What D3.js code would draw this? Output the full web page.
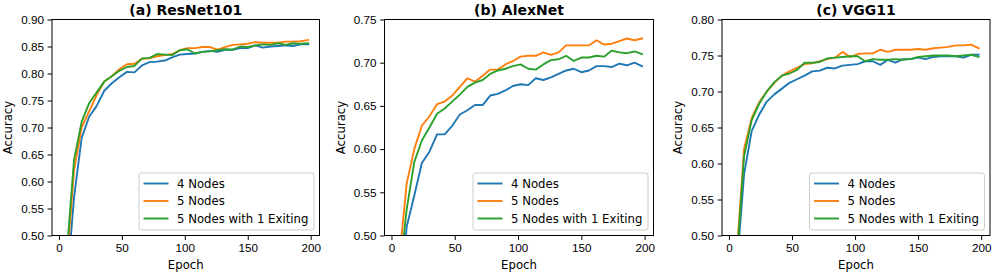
<!DOCTYPE html>
<html>
<head>
<meta charset="utf-8">
<script src="https://cdn.jsdelivr.net/npm/d3@7"></script>
<style>
  body { margin: 0; background: #fff; }
  svg { display: block; font-family: "DejaVu Sans", sans-serif; }
  .tick text { font-size: 11.7px; fill: #000; }
  .tick line { stroke: #000; }
  .domain { display: none; }
</style>
</head>
<body>
<svg id="chart" width="996" height="274"></svg>
<script>
// epochs at which accuracy was logged
const epochs = [6, 12, 18, 24, 30, 36, 42, 48, 54, 60, 66, 72, 78, 84, 90, 96, 102,
  108, 114, 120, 126, 132, 138, 144, 150, 156, 162, 168, 174, 180, 186, 192, 198];

const seriesNames = ['4 Nodes', '5 Nodes', '5 Nodes with 1 Exiting'];
const colors = ['#1f77b4', '#ff7f0e', '#2ca02c'];
const xTicks = [0, 50, 100, 150, 200];

// (a) ResNet101
const resnet4 = [0.40, 0.57, 0.68, 0.72, 0.74, 0.768, 0.782, 0.793, 0.803, 0.802, 0.815, 0.821,
  0.822, 0.824, 0.830, 0.835, 0.836, 0.837, 0.840, 0.842, 0.840, 0.844, 0.844, 0.847, 0.847,
  0.852, 0.848, 0.850, 0.851, 0.852, 0.851, 0.854, 0.854];
const resnet5 = [0.44, 0.62, 0.70, 0.73, 0.76, 0.785, 0.795, 0.808, 0.817, 0.818, 0.827, 0.828,
  0.832, 0.834, 0.836, 0.843, 0.847, 0.847, 0.849, 0.849, 0.844, 0.849, 0.853, 0.854, 0.855,
  0.858, 0.857, 0.857, 0.857, 0.859, 0.859, 0.860, 0.862];
const resnet5x = [0.46, 0.64, 0.71, 0.745, 0.765, 0.785, 0.795, 0.805, 0.812, 0.814, 0.828, 0.829,
  0.836, 0.835, 0.834, 0.843, 0.845, 0.837, 0.840, 0.841, 0.843, 0.845, 0.844, 0.850, 0.849,
  0.852, 0.854, 0.853, 0.856, 0.853, 0.856, 0.855, 0.856];
const resnetTicks = [0.50, 0.55, 0.60, 0.65, 0.70, 0.75, 0.80, 0.85, 0.90];

// (b) AlexNet
const alex4 = [0.40, 0.51, 0.546, 0.584, 0.597, 0.617, 0.617, 0.627, 0.640, 0.645, 0.651, 0.651,
  0.662, 0.664, 0.668, 0.673, 0.675, 0.674, 0.682, 0.680, 0.683, 0.687, 0.691, 0.693, 0.689,
  0.691, 0.696, 0.696, 0.695, 0.699, 0.697, 0.700, 0.696];
const alex5 = [0.47, 0.56, 0.60, 0.627, 0.638, 0.652, 0.655, 0.662, 0.672, 0.682, 0.678, 0.685,
  0.692, 0.692, 0.698, 0.702, 0.707, 0.708, 0.708, 0.712, 0.709, 0.712, 0.720, 0.720, 0.720,
  0.720, 0.726, 0.721, 0.722, 0.725, 0.728, 0.726, 0.728];
const alex5x = [0.45, 0.53, 0.585, 0.61, 0.625, 0.641, 0.647, 0.655, 0.663, 0.672, 0.677, 0.680,
  0.687, 0.691, 0.693, 0.696, 0.698, 0.693, 0.692, 0.698, 0.703, 0.704, 0.708, 0.702, 0.706,
  0.706, 0.708, 0.707, 0.714, 0.712, 0.711, 0.713, 0.710];
const alexTicks = [0.50, 0.55, 0.60, 0.65, 0.70, 0.75];

// (c) VGG11
const vgg4 = [0.45, 0.585, 0.645, 0.668, 0.686, 0.696, 0.704, 0.712, 0.717, 0.722, 0.728, 0.729,
  0.733, 0.732, 0.736, 0.737, 0.738, 0.742, 0.742, 0.737, 0.744, 0.740, 0.745, 0.745, 0.747,
  0.745, 0.748, 0.749, 0.749, 0.749, 0.747, 0.751, 0.751];
const vgg5 = [0.47, 0.62, 0.663, 0.685, 0.700, 0.712, 0.722, 0.728, 0.733, 0.738, 0.739, 0.742,
  0.745, 0.747, 0.755, 0.748, 0.752, 0.753, 0.753, 0.758, 0.755, 0.758, 0.758, 0.758, 0.759,
  0.758, 0.760, 0.761, 0.762, 0.764, 0.764, 0.765, 0.760];
const vgg5x = [0.46, 0.61, 0.66, 0.683, 0.700, 0.713, 0.722, 0.725, 0.730, 0.740, 0.740, 0.741,
  0.746, 0.747, 0.748, 0.749, 0.749, 0.742, 0.745, 0.744, 0.744, 0.745, 0.744, 0.745, 0.748,
  0.749, 0.750, 0.750, 0.750, 0.749, 0.750, 0.751, 0.748];
const vggTicks = [0.50, 0.55, 0.60, 0.65, 0.70, 0.75, 0.80];

const panels = [
  { title: '(a) ResNet101', left: 52, right: 319.5, series: [resnet4, resnet5, resnet5x], ticks: resnetTicks },
  { title: '(b) AlexNet', left: 384.5, right: 653.5, series: [alex4, alex5, alex5x], ticks: alexTicks },
  { title: '(c) VGG11', left: 722, right: 990, series: [vgg4, vgg5, vgg5x], ticks: vggTicks }
];

const plotTop = 19.5, plotBottom = 235.5;
const svg = d3.select('#chart');

panels.forEach((p, pi) => {
  const w = p.right - p.left, h = plotBottom - plotTop;
  const g = svg.append('g').attr('transform', `translate(${p.left}, ${plotTop})`);

  const x = d3.scaleLinear().domain([-5.5, 207]).range([0, w]);
  const y = d3.scaleLinear().domain([p.ticks[0], p.ticks[p.ticks.length - 1]]).range([h, 0]);

  g.append('clipPath').attr('id', 'clip' + pi)
    .append('rect').attr('width', w).attr('height', h);

  const line = d3.line()
    .x((d, i) => x(epochs[i]))
    .y(d => y(d));

  const lines = g.append('g').attr('clip-path', `url(#clip${pi})`);
  p.series.forEach((s, si) => {
    lines.append('path')
      .datum(s)
      .attr('fill', 'none')
      .attr('stroke', colors[si])
      .attr('stroke-width', 1.9)
      .attr('stroke-linejoin', 'round')
      .attr('stroke-linecap', 'square')
      .attr('d', line);
  });

  g.append('g')
    .attr('transform', `translate(0, ${h})`)
    .call(d3.axisBottom(x).tickValues(xTicks).tickSize(4.4).tickPadding(3.5).tickFormat(d3.format('d')));

  g.append('g')
    .call(d3.axisLeft(y).tickValues(p.ticks).tickSize(4.4).tickPadding(3.5).tickFormat(d3.format('.2f')));

  // frame
  g.append('rect')
    .attr('width', w).attr('height', h)
    .attr('fill', 'none').attr('stroke', '#000').attr('stroke-width', 1);

  g.append('text')
    .attr('x', w / 2).attr('y', -5)
    .attr('text-anchor', 'middle')
    .style('font-size', '14px').style('font-weight', 'bold')
    .text(p.title);

  g.append('text')
    .attr('x', w / 2).attr('y', h + 33.5)
    .attr('text-anchor', 'middle')
    .style('font-size', '11.7px')
    .text('Epoch');

  g.append('text')
    .attr('transform', `translate(-40, ${h / 2}) rotate(-90)`)
    .attr('text-anchor', 'middle')
    .style('font-size', '11.7px')
    .text('Accuracy');

  // legend, lower right
  const lw = 175, lh = 57;
  const leg = g.append('g').attr('transform', `translate(${w - lw - 5.5}, ${h - lh - 5.5})`);
  leg.append('rect')
    .attr('width', lw).attr('height', lh).attr('rx', 2.5)
    .attr('fill', 'rgba(255,255,255,0.8)').attr('stroke', '#cccccc').attr('stroke-width', 1);
  seriesNames.forEach((n, i) => {
    const ry = 10.5 + i * 17.5;
    leg.append('line')
      .attr('x1', 4.5).attr('x2', 29.5).attr('y1', ry).attr('y2', ry)
      .attr('stroke', colors[i]).attr('stroke-width', 1.9);
    leg.append('text')
      .attr('x', 38).attr('y', ry + 4.2)
      .style('font-size', '11.7px')
      .text(n);
  });
});
</script>
</body>
</html>
